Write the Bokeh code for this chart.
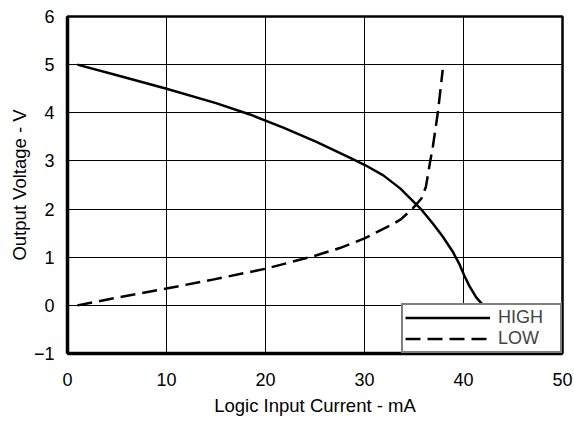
from bokeh.plotting import figure
from bokeh.models import FixedTicker, Legend, LegendItem, Range1d
from bokeh.embed import file_html
from bokeh.resources import INLINE

# Data
high_x = [1, 5, 10, 15, 18.5, 21.8, 25.2, 28.5, 30, 31.9, 33.6, 35.7, 36.9, 37.9, 38.9, 39.6, 40.1, 40.6, 41.3, 42]
high_y = [5, 4.78, 4.5, 4.2, 3.96, 3.69, 3.39, 3.07, 2.92, 2.70, 2.43, 2.0, 1.70, 1.43, 1.12, 0.85, 0.61, 0.40, 0.16, 0.0]
low_x = [1, 5, 10, 14.8, 20, 25, 27.5, 30, 32.9, 33.7, 34.9, 35.75, 36.2, 36.6, 36.9, 37.4, 37.9]
low_y = [0, 0.16, 0.35, 0.54, 0.76, 1.03, 1.19, 1.39, 1.69, 1.79, 2.02, 2.22, 2.46, 2.95, 3.29, 3.99, 4.89]
x_ticks = [0, 10, 20, 30, 40, 50]
y_ticks = [-1, 0, 1, 2, 3, 4, 5, 6]
series_labels = ["HIGH", "LOW"]
x_title = "Logic Input Current - mA"
y_title = "Output Voltage - V"

FONT = "Liberation Sans"

p = figure(width=574, height=421, output_backend="svg", toolbar_location=None,
           x_range=Range1d(0, 50), y_range=Range1d(-1, 6),
           min_border_top=16, min_border_right=12, min_border_left=67, min_border_bottom=68)

p.background_fill_color = "white"
p.border_fill_color = "white"
p.outline_line_color = "black"
p.outline_line_width = 2.5

for ax in (p.xaxis[0], p.yaxis[0]):
    ax.axis_line_width = 3.5
    ax.axis_line_color = "black"
    ax.major_tick_line_color = None
    ax.minor_tick_line_color = None
    ax.major_label_text_font = FONT
    ax.major_label_text_font_size = "18px"
    ax.major_label_text_color = "black"
    ax.axis_label_text_font = FONT
    ax.axis_label_text_font_size = "18.5px"
    ax.axis_label_text_font_style = "normal"
    ax.axis_label_text_color = "black"

p.xaxis.ticker = FixedTicker(ticks=x_ticks)
p.yaxis.ticker = FixedTicker(ticks=y_ticks)
p.yaxis.major_label_overrides = {-1: "\u22121"}
p.xaxis.axis_label = x_title
p.yaxis.axis_label = y_title
p.xaxis.major_label_standoff = 13
p.xaxis.axis_label_standoff = 6
p.yaxis.major_label_standoff = 7
p.yaxis.axis_label_standoff = 1

p.xgrid.ticker = FixedTicker(ticks=x_ticks)
p.ygrid.ticker = FixedTicker(ticks=y_ticks)
for g in (p.xgrid[0], p.ygrid[0]):
    g.grid_line_color = "black"
    g.grid_line_width = 1
    g.grid_line_alpha = 1.0

r_high = p.line(high_x, high_y, line_color="black", line_width=2.5)
r_low = p.line(low_x, low_y, line_color="black", line_width=2.5, line_dash="15 7")

legend = Legend(items=[LegendItem(label=series_labels[0], renderers=[r_high]),
                       LegendItem(label=series_labels[1], renderers=[r_low])],
                location="bottom_right", margin=0, padding=2, spacing=0,
                glyph_width=85, glyph_height=17, label_height=17, label_width=60,
                label_standoff=8, label_text_font=FONT, label_text_font_size="18px",
                label_text_line_height=1.0,
                border_line_color="black", border_line_width=2.5,
                background_fill_color="white", background_fill_alpha=1.0)
p.add_layout(legend)

open("out.html", "w").write(file_html(p, INLINE))
